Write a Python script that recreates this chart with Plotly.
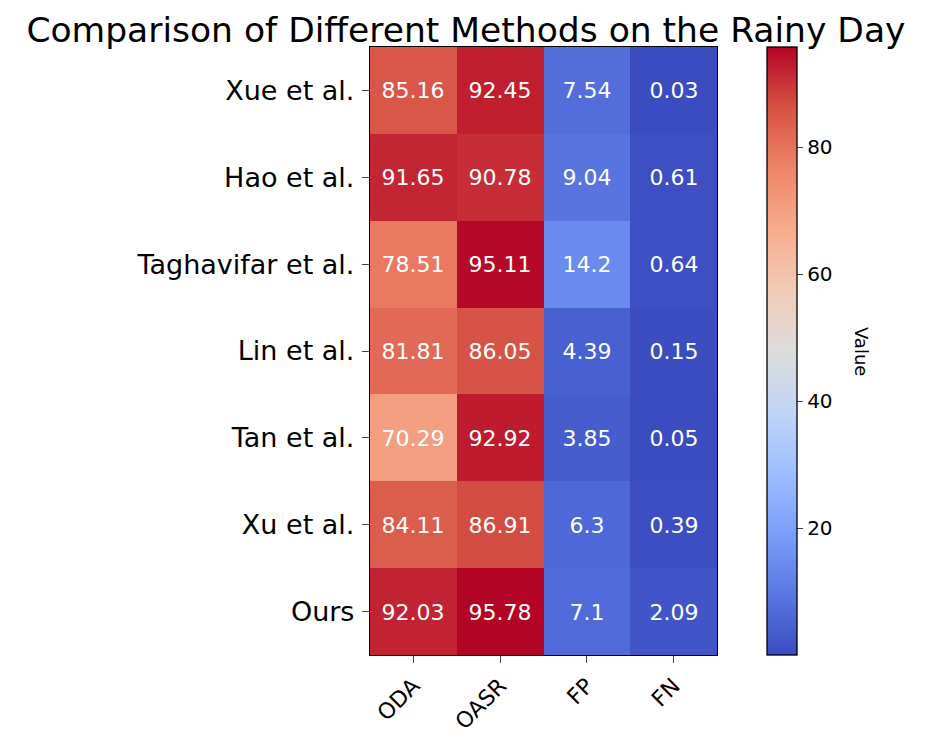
import plotly.graph_objects as go

methods = ['Xue et al.', 'Hao et al.', 'Taghavifar et al.', 'Lin et al.',
           'Tan et al.', 'Xu et al.', 'Ours']
metrics = ['ODA', 'OASR', 'FP', 'FN']

oda = [85.16, 91.65, 78.51, 81.81, 70.29, 84.11, 92.03]
oasr = [92.45, 90.78, 95.11, 86.05, 92.92, 86.91, 95.78]
fp = [7.54, 9.04, 14.2, 4.39, 3.85, 6.3, 7.1]
fn = [0.03, 0.61, 0.64, 0.15, 0.05, 0.39, 2.09]

z = [list(row) for row in zip(oda, oasr, fp, fn)]
labels = [[str(v) for v in row] for row in z]

# matplotlib "coolwarm", sampled
coolwarm = [
    [0.0, '#3b4cc0'], [0.1, '#5977e3'], [0.2, '#7b9ff9'], [0.3, '#9ebeff'],
    [0.4, '#c0d4f5'], [0.5, '#dddcdc'], [0.6, '#f2cbb7'], [0.7, '#f7ac8e'],
    [0.8, '#ee8468'], [0.9, '#d65244'], [1.0, '#b40426'],
]

fig = go.Figure(go.Heatmap(
    z=z,
    x=metrics,
    y=methods,
    text=labels,
    texttemplate='%{text}',
    textfont=dict(size=22, color='white', family='DejaVu Sans'),
    colorscale=coolwarm,
    zmin=min(min(r) for r in z),
    zmax=max(max(r) for r in z),
    colorbar=dict(
        tickvals=[20, 40, 60, 80],
        ticks='outside', ticklen=6, tickwidth=1.2,
        tickfont=dict(size=20),
        thickness=30, len=1, lenmode='fraction',
        x=1.144, xanchor='left', y=0.5, yanchor='middle',
        outlinecolor='black', outlinewidth=1.3,
        ypad=0, xpad=0,
    ),
))

# colorbar label, reading top to bottom like matplotlib's rotated label
fig.add_annotation(text='Value', textangle=90, showarrow=False,
                   xref='paper', yref='paper', x=1.418, y=0.5,
                   xanchor='center', yanchor='middle', font=dict(size=18))

# page body adds an 8px margin, so the figure is a bit smaller than the window
fig.update_layout(
    width=927, height=731,
    margin=dict(l=362, r=218, t=39, b=84),
    paper_bgcolor='white', plot_bgcolor='white',
    font=dict(family='DejaVu Sans', color='black'),
    title=dict(text='Comparison of Different Methods on the Rainy Day',
               x=0.494, xanchor='center', y=0.987, yanchor='top',
               font=dict(size=34.5)),
)
fig.update_xaxes(tickangle=-45, tickfont=dict(size=22), ticks='outside',
                 ticklen=7, showline=True, linecolor='black', linewidth=1.3,
                 mirror=True, ticklabelstandoff=1, automargin=False)
fig.update_yaxes(autorange='reversed', tickfont=dict(size=27), ticks='outside',
                 ticklen=7, showline=True, linecolor='black', linewidth=1.3,
                 mirror=True, ticklabelstandoff=2, automargin=False)

fig.write_html('out.html')
